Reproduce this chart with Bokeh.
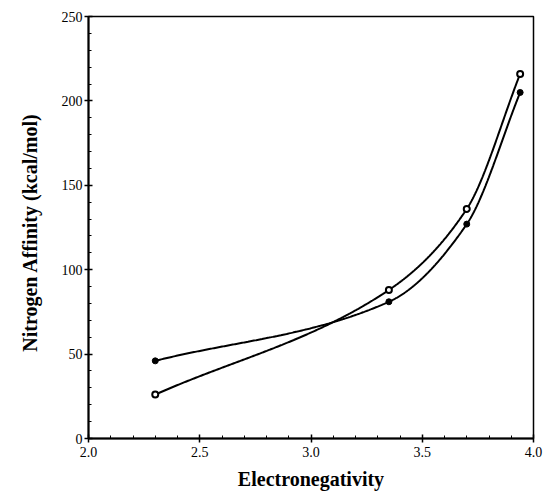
import numpy as np
from bokeh.plotting import figure
from bokeh.models import Range1d, FixedTicker, CustomJSTickFormatter
from bokeh.embed import file_html
from bokeh.resources import INLINE

# Data
electroneg = [2.30, 3.35, 3.70, 3.94]
affinity_a = [46, 81, 127, 205]   # filled markers
affinity_b = [26, 88, 136, 216]   # open markers
x_ticks = [2.0, 2.5, 3.0, 3.5, 4.0]
y_ticks = [0, 50, 100, 150, 200, 250]


def smooth(xs, ys, n=200):
    xs = np.asarray(xs, float)
    ys = np.asarray(ys, float)
    h = np.diff(xs)
    d = np.diff(ys) / h
    m = np.zeros_like(xs)
    m[0] = d[0]
    m[-1] = d[-1]
    for i in range(1, len(xs) - 1):
        w1 = 2 * h[i] + h[i - 1]
        w2 = h[i] + 2 * h[i - 1]
        m[i] = (w1 + w2) / (w1 / d[i - 1] + w2 / d[i])
    out_x, out_y = [], []
    for i in range(len(xs) - 1):
        t = np.linspace(0, 1, n)
        h00 = 2 * t**3 - 3 * t**2 + 1
        h10 = t**3 - 2 * t**2 + t
        h01 = -2 * t**3 + 3 * t**2
        h11 = t**3 - t**2
        yy = h00 * ys[i] + h10 * h[i] * m[i] + h01 * ys[i + 1] + h11 * h[i] * m[i + 1]
        out_x.extend(xs[i] + t * h[i])
        out_y.extend(yy)
    return out_x, out_y


p = figure(width=545, height=492, output_backend="svg", toolbar_location=None,
           x_range=Range1d(2.0, 4.0), y_range=Range1d(0, 250),
           min_border_left=88, min_border_right=12, min_border_top=16, min_border_bottom=54)
p.background_fill_color = "white"
p.border_fill_color = "white"
p.xgrid.visible = False
p.ygrid.visible = False
p.outline_line_color = "black"
p.outline_line_width = 1.5

ax, ay = smooth(electroneg, affinity_a)
bx, by = smooth(electroneg, affinity_b)
p.line(ax, ay, line_color="black", line_width=2)
p.line(bx, by, line_color="black", line_width=2)
p.scatter(electroneg, affinity_a, size=6, fill_color="black", line_color="black")
p.scatter(electroneg, affinity_b, size=6, fill_color="white", line_color="black", line_width=2)

serif = "Liberation Serif"
p.xaxis.ticker = FixedTicker(ticks=x_ticks, minor_ticks=[round(2.0 + 0.1 * i, 2) for i in range(21)])
p.yaxis.ticker = FixedTicker(ticks=y_ticks, minor_ticks=list(range(0, 251, 10)))
p.xaxis.formatter = CustomJSTickFormatter(code="return tick.toFixed(1);")
for axis in (p.xaxis[0], p.yaxis[0]):
    axis.axis_line_color = "black"
    axis.axis_line_width = 2
    axis.major_tick_line_color = "black"
    axis.minor_tick_line_color = "black"
    axis.major_tick_line_width = 1.5
    axis.minor_tick_line_width = 1
    axis.major_tick_in = 4
    axis.major_tick_out = 4
    axis.minor_tick_in = 3
    axis.minor_tick_out = 0
    axis.major_label_text_font = serif
    axis.major_label_text_font_size = "14px"
    axis.major_label_text_color = "black"
    axis.axis_label_text_font = serif
    axis.axis_label_text_font_style = "bold"
    axis.axis_label_text_color = "black"
    axis.axis_label_text_font_size = "20px"

p.xaxis.axis_label = "Electronegativity"
p.yaxis.axis_label = "Nitrogen  Affinity  (kcal/mol)"
p.xaxis.major_label_standoff = 4
p.xaxis.axis_label_standoff = 8
p.yaxis.major_label_standoff = 2
p.yaxis.axis_label_standoff = 18

open("out.html", "w").write(file_html(p, INLINE))
